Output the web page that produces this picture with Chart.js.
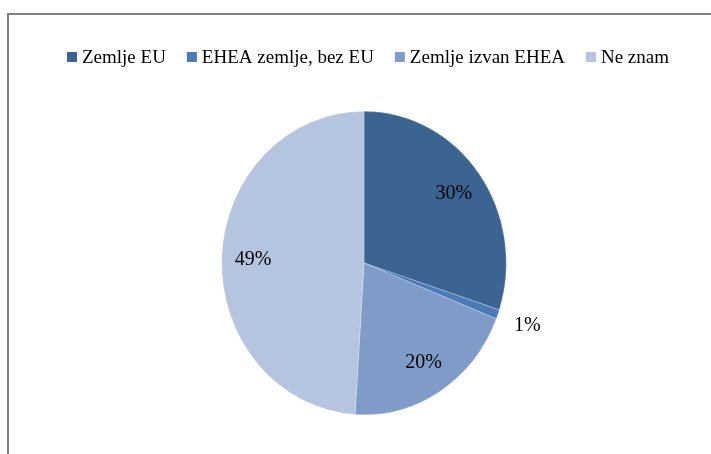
<!DOCTYPE html>
<html>
<head>
<meta charset="utf-8">
<script src="https://cdn.jsdelivr.net/npm/chart.js@4"></script>
<style>
  html, body { margin: 0; padding: 0; background: #fff; }
  #wrap { width: 711px; height: 454px; position: relative; }
</style>
</head>
<body>
<div id="wrap"><canvas id="grafico" width="711" height="454"></canvas></div>
<script>
const categorias = ["Zemlje EU", "EHEA zemlje, bez EU", "Zemlje izvan EHEA", "Ne znam"];
const valores = [30, 1, 20, 49]; // postoci
const boje = ["#3c6493", "#4a7ab7", "#7f9cc8", "#b6c5df"];

// original je blago stisnut vodoravno
const sx = 0.9375;

// okvir grafikona (samo gornja i lijeva linija vidljive)
const okvir = {
  id: "okvir",
  beforeDraw(chart) {
    const c = chart.ctx;
    c.save();
    c.strokeStyle = "#808080";
    c.lineWidth = 2;
    c.beginPath();
    c.moveTo(8, chart.height);
    c.lineTo(8, 14);
    c.lineTo(chart.width, 14);
    c.stroke();
    c.restore();
  }
};

// elipsa umjesto kruga
const stisni = {
  id: "stisni",
  beforeDatasetsDraw(chart) {
    const m = chart.getDatasetMeta(0).data[0];
    const c = chart.ctx;
    c.save();
    c.translate(m.x, 0);
    c.scale(sx, 1);
    c.translate(-m.x, 0);
  },
  afterDatasetsDraw(chart) {
    chart.ctx.restore();
  }
};

// legenda
const legenda = {
  id: "legenda",
  afterDraw(chart) {
    const c = chart.ctx;
    const y = 57;
    c.save();
    c.font = "19px 'Liberation Serif'";
    c.textBaseline = "middle";
    let ukupno = 0;
    categorias.forEach((naziv, i) => {
      ukupno += 15 + c.measureText(naziv).width + (i < categorias.length - 1 ? 21 : 0);
    });
    let x = 368 - ukupno / 2;
    categorias.forEach((naziv, i) => {
      c.fillStyle = boje[i];
      c.fillRect(x, y - 5, 10, 10);
      x += 15;
      c.fillStyle = "#000";
      c.fillText(naziv, x, y + 1);
      x += c.measureText(naziv).width + 21;
    });
    c.restore();
  }
};

// postoci na kriškama
const oznake = {
  id: "oznake",
  afterDraw(chart) {
    const c = chart.ctx;
    const meta = chart.getDatasetMeta(0);
    c.save();
    c.font = "20px 'Liberation Serif'";
    c.fillStyle = "#000";
    c.textAlign = "center";
    c.textBaseline = "middle";
    meta.data.forEach((arc, i) => {
      const p = arc.getProps(["x", "y", "startAngle", "endAngle", "outerRadius"], true);
      const mid = (p.startAngle + p.endAngle) / 2;
      const f = valores[i] < 5 ? 1.22 : 0.78;
      const x = p.x + Math.cos(mid) * p.outerRadius * f * sx;
      const y = p.y + Math.sin(mid) * p.outerRadius * f;
      c.fillText(valores[i] + "%", x, y);
    });
    c.restore();
  }
};

new Chart(document.getElementById("grafico"), {
  type: "pie",
  data: {
    labels: categorias,
    datasets: [{
      data: valores,
      backgroundColor: boje,
      borderColor: "rgba(255,255,255,0.5)",
      borderWidth: 0.5
    }]
  },
  options: {
    responsive: false,
    animation: false,
    layout: { padding: { top: 111, left: 45, right: 28, bottom: 39 } },
    plugins: {
      legend: { display: false },
      tooltip: { enabled: false }
    }
  },
  plugins: [okvir, stisni, legenda, oznake]
});
</script>
</body>
</html>
